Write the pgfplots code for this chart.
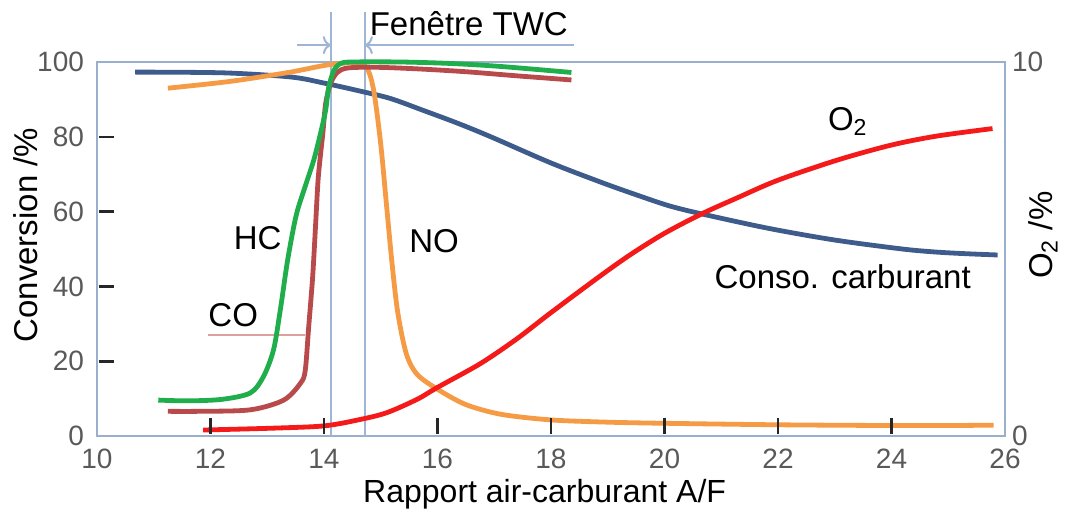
\documentclass[border=0pt]{standalone}
\usepackage{fontspec}
\setmainfont{Liberation Sans}
\usepackage{pgfplots}
\pgfplotsset{compat=1.18}
\usetikzlibrary{arrows.meta}
\definecolor{framec}{HTML}{9AAFCB}
\definecolor{vline}{HTML}{9FB5D5}
\definecolor{cblue}{HTML}{3D5C8C}
\definecolor{cgreen}{HTML}{1FAE4B}
\definecolor{cbrown}{HTML}{B84A4C}
\definecolor{corange}{HTML}{F59B45}
\definecolor{cred}{HTML}{F51A1A}
\definecolor{ticklab}{HTML}{595959}
\definecolor{cpink}{HTML}{DDA0A0}
\definecolor{tickcol}{HTML}{262626}
\begin{document}
\begin{tikzpicture}
\begin{axis}[name=main, at={(0,0)}, anchor=south west,
  scale only axis, width=454pt, height=187pt,
  xmin=10, xmax=26, ymin=0, ymax=100,
  axis line style={color=framec, line width=1pt},
  xtick={10,12,...,26}, ytick={0,20,...,100},
  tick pos=left,
  major tick length=0pt,
  /pgf/number format/assume math mode=true,
  tick label style={font=\fontsize{14}{16}\selectfont, text=ticklab},
  xticklabel style={yshift=-3pt},
  yticklabel style={xshift=-3pt},
  xlabel={Rapport air-carburant A/F},
  xlabel style={at={(axis description cs:0.493,-0.155)}, anchor=center, font=\fontsize{16}{19}\selectfont},
  ylabel={Conversion /\%},
  ylabel style={at={(axis description cs:-0.079,0.537)}, anchor=center, font=\fontsize{16.5}{19}\selectfont},
  clip=false,
]
% TWC window lines
\draw[vline, line width=1pt] (axis cs:14.12,0) -- (axis cs:14.12,113.4);
\draw[vline, line width=1pt] (axis cs:14.72,0) -- (axis cs:14.72,113.4);
\draw[vline, line width=1pt, -{To[length=4pt,width=9pt]}] (axis cs:13.52,104.5) -- (axis cs:14.12,104.5);
\draw[vline, line width=1pt, -{To[length=4pt,width=9pt]}] (axis cs:18.41,104.5) -- (axis cs:14.72,104.5);
\node[anchor=west, inner sep=0pt, font=\fontsize{16.5}{19}\selectfont] at (axis cs:14.8,110.2) {Fenêtre TWC};
% CO leader
\draw[cpink, line width=0.8pt] (axis cs:11.96,27) -- (axis cs:13.67,27);

% Conso. carburant
\addplot[cblue, line width=2.4pt, smooth] coordinates {
(10.67,97.3) (12.23,97.1) (13.41,96.0) (13.99,94.4) (14.70,92.0) (15.18,90.2) (15.76,87.0)
(16.36,83.6) (16.94,80.0) (18.00,73.0) (18.89,67.8) (19.50,64.5) (20.07,61.6) (20.65,59.4)
(21.84,55.5) (23.00,52.4) (24.19,50.0) (24.77,49.2) (25.3,48.75) (25.87,48.4)};
% NO
\addplot[corange, line width=2.4pt, smooth] coordinates {
(11.25,93) (12.0,94.2) (12.53,95.2) (13.41,97.3) (14.06,99.2) (14.6,99.8) (14.77,98)
(14.88,92) (15.0,78) (15.1,62) (15.2,46) (15.3,33) (15.45,22) (15.64,16.5) (16.0,12.5)
(16.5,8.4) (17.12,5.8) (18.0,4.3) (19.0,3.7) (20.0,3.4) (22.0,3.0) (24.0,2.8) (25.0,2.8) (25.8,2.9)};
% CO
\addplot[cbrown, line width=2.4pt, smooth] coordinates {
(11.25,6.6) (11.8,6.6) (12.70,7.0) (13.29,9.6) (13.59,14.2) (13.67,17.6) (13.73,29.1)
(13.80,42.5) (13.85,55.9) (13.90,69.3) (13.98,81.0) (14.03,89.0) (14.12,94.4) (14.24,97.3)
(14.42,98.4) (14.88,98.6) (15.6,98.2) (16.5,97.4) (17.4,96.3) (18.36,95.2)};
% HC
\addplot[cgreen, line width=2.4pt, smooth] coordinates {
(11.08,9.6) (11.6,9.4) (12.2,9.8) (12.70,11.5) (12.93,15.8) (13.11,23.0) (13.23,33.7)
(13.36,47.1) (13.51,59.0) (13.67,66.8) (13.82,73.8) (13.94,81.0) (14.03,87.2) (14.08,93.0)
(14.17,97.6) (14.29,99.6) (14.5,100) (15.35,100) (16.24,99.6) (17.12,98.8) (18.36,97.2)};

\node[font=\fontsize{16.5}{19}\selectfont] at (axis cs:12.83,52.9) {HC};
\node[font=\fontsize{16.5}{19}\selectfont] at (axis cs:12.4,32.4) {CO};
\node[font=\fontsize{16.5}{19}\selectfont] at (axis cs:15.94,52.1) {NO};
\node[font=\fontsize{16.5}{19}\selectfont] at (axis cs:23.14,42.5) {Conso. carburant};
\node[font=\fontsize{16.5}{19}\selectfont] at (axis cs:23.23,84) {O\textsubscript{2}};
\end{axis}

\begin{axis}[at={(main.south west)}, anchor=south west,
  scale only axis, width=454pt, height=187pt,
  xmin=10, xmax=26, ymin=0, ymax=10,
  axis x line=none, axis y line*=right,
  axis line style={color=framec, line width=1pt},
  ytick={0,10}, major tick length=0pt,
  /pgf/number format/assume math mode=true,
  tick label style={font=\fontsize{14}{16}\selectfont, text=ticklab},
  ylabel={O\textsubscript{2} /\%},
  ylabel style={at={(axis description cs:1.042,0.537)}, anchor=center, font=\fontsize{16.5}{19}\selectfont},
  clip=false,
]
% O2
\addplot[cred, line width=2.4pt, smooth] coordinates {
(11.87,0.16) (13.11,0.21) (14.0,0.27) (14.6,0.43) (15.1,0.62) (15.64,0.98) (16.0,1.30)
(16.76,1.94) (17.4,2.6) (18.0,3.30) (18.85,4.26) (19.4,4.85) (20.0,5.42) (20.67,5.95)
(21.3,6.38) (22.0,6.84) (23.05,7.38) (24.0,7.78) (24.8,8.02) (25.78,8.22)};
% inner tick marks of the main axis (x: 12..24, left y: 20..80 -> 2..8 here)
\draw[color=tickcol, line width=1.3pt] (axis cs:12,0.05) -- (axis cs:12,0.48);
\draw[color=tickcol, line width=1.3pt] (axis cs:14,0.05) -- (axis cs:14,0.48);
\draw[color=tickcol, line width=1.3pt] (axis cs:16,0.05) -- (axis cs:16,0.48);
\draw[color=tickcol, line width=1.3pt] (axis cs:18,0.05) -- (axis cs:18,0.48);
\draw[color=tickcol, line width=1.3pt] (axis cs:20,0.05) -- (axis cs:20,0.48);
\draw[color=tickcol, line width=1.3pt] (axis cs:22,0.05) -- (axis cs:22,0.48);
\draw[color=tickcol, line width=1.3pt] (axis cs:24,0.05) -- (axis cs:24,0.48);
\draw[color=tickcol, line width=1.3pt] (axis cs:10.03,2) -- (axis cs:10.3,2);
\draw[color=tickcol, line width=1.3pt] (axis cs:10.03,4) -- (axis cs:10.3,4);
\draw[color=tickcol, line width=1.3pt] (axis cs:10.03,6) -- (axis cs:10.3,6);
\draw[color=tickcol, line width=1.3pt] (axis cs:10.03,8) -- (axis cs:10.3,8);
\end{axis}
\pgfresetboundingbox
\path[use as bounding box] (main.south west) ++(-48.5pt,-39.5pt) rectangle ++(532.5pt,257.5pt);
\end{tikzpicture}
\end{document}
